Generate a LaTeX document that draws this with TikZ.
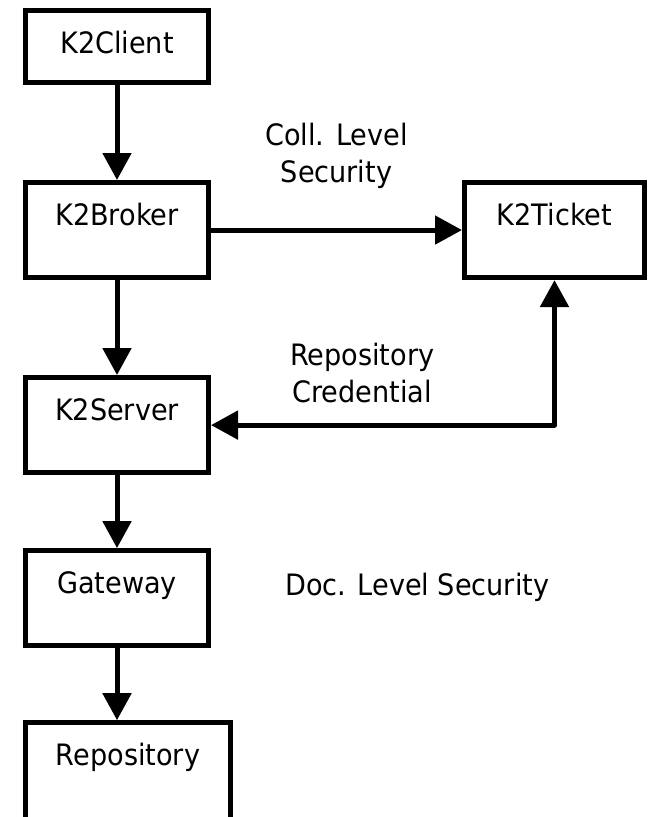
\documentclass[tikz,border=0pt]{standalone}
\usepackage{fontspec}
\setmainfont{DejaVu Sans}[FakeStretch=0.92]
\usetikzlibrary{positioning,arrows.meta}
\tikzset{mytip/.tip={Triangle[length=20.25pt,width=21pt]}}

\begin{document}
\begin{tikzpicture}[x=0.75pt,y=-0.75pt,
      font=\fontsize{22.1}{27.75}\selectfont,
      node distance=71.25pt and 188.25pt,
      mybox/.style={draw,line width=3.75pt,inner sep=0,minimum width=137.25pt,text height=31.9pt,text depth=39.4pt},
      mylabel/.style={align=center,inner sep=0},
      myarrow/.style={line width=3.75pt,line join=round,-mytip}
    ]
        \useasboundingbox (0,0) rectangle (648,817);
        \node[mybox,text depth=22.1pt] (client) at (117,46.5) {K2Client};
        \node[mybox,below=of client] (broker) {K2Broker};
        \node[mybox,right=of broker,minimum width=135pt] (ticket) {K2Ticket};
        \node[mybox,below=of broker] (server) {K2Server};
        \node[mybox,below=54.75pt of server] (gateway) {Gateway};
        \node[mybox,below=54pt of gateway.south west,anchor=north west,minimum width=153.75pt,text depth=48pt] (repo) {Repository};
        \node[mylabel,right=55.5pt of gateway,yshift=8pt] (doclevel) {Doc. Level Security};
        \draw[myarrow] (client) -- (broker);
        \draw[myarrow] (broker.east) -- (broker.east -| ticket.west)
            node[mylabel,midway,above=29pt] (colllevel) {Coll. Level\\Security};
        \draw[myarrow] (broker) -- (server);
        \draw[myarrow,mytip-mytip] (ticket.south) |- (server.east)
            node[mylabel,pos=0.78,above=15pt] (credential) {Repository\\Credential};
        \draw[myarrow] (server) -- (gateway);
        \draw[myarrow] (gateway.south) -- (gateway.south |- repo.north);
    \end{tikzpicture}
\end{document}
